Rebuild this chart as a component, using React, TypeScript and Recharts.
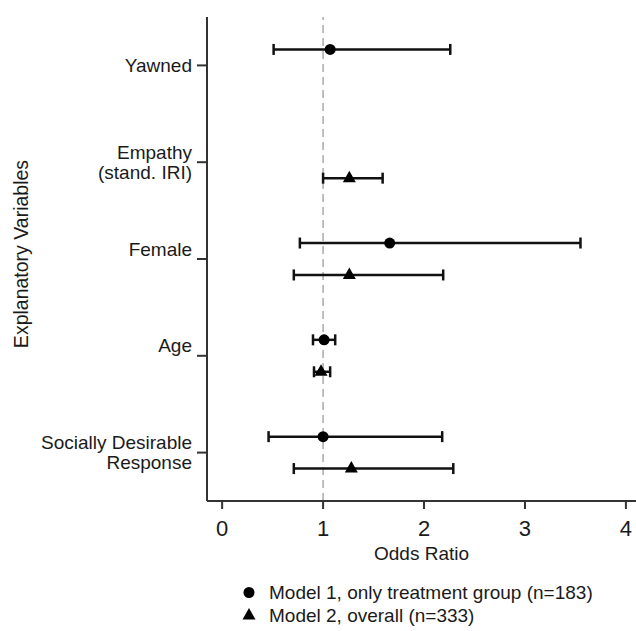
import React from 'react';
import { ScatterChart, Scatter, XAxis, YAxis, ErrorBar, ReferenceLine, Legend } from 'recharts';

// Explanatory variables (tick labels, one row per line)
const variables = [
  ['Yawned'],
  ['Empathy', '(stand. IRI)'],
  ['Female', ''],
  ['Age', ''],
  ['Socially Desirable', 'Response'],
];

// Model 1, only treatment group (null = not in model)
const m1Odds = [1.07, null, 1.66, 1.01, 1.0];
const m1Lower = [0.51, null, 0.77, 0.9, 0.46];
const m1Upper = [2.26, null, 3.55, 1.12, 2.18];

// Model 2, overall
const m2Odds = [null, 1.26, 1.26, 0.98, 1.28];
const m2Lower = [null, 1.0, 0.71, 0.91, 0.71];
const m2Upper = [null, 1.59, 2.19, 1.07, 2.29];

const xTicks = [0, 1, 2, 3, 4];
const FONT = '"Liberation Sans", Arial, sans-serif';

const buildRows = (odds: (number | null)[], lo: (number | null)[], hi: (number | null)[], shift: number) =>
  odds
    .map((v, i) => (v == null ? null : { x: v, y: i + shift, err: [v - (lo[i] as number), (hi[i] as number) - v] }))
    .filter(Boolean) as any[];

const model1 = buildRows(m1Odds, m1Lower, m1Upper, -0.165);
const model2 = buildRows(m2Odds, m2Lower, m2Upper, 0.165);

const Dot = ({ cx, cy }: any) => <circle cx={cx} cy={cy} r={5.5} fill="#000" />;
const Tri = ({ cx, cy }: any) => <path d={`M${cx},${cy - 7.5} L${cx + 6.5},${cy + 4} L${cx - 6.5},${cy + 4} Z`} fill="#000" />;

const VarTick = ({ x, y, payload }: any) => {
  const lines = variables[payload.value] || [];
  const start = y - ((lines.length - 1) * 20) / 2;
  return (
    <text x={x} textAnchor="end" fontSize={19} fontFamily={FONT} fill="#1a1a1a">
      {lines.map((l, i) => (
        <tspan key={i} x={x} y={start + i * 20} dominantBaseline="central">{l}</tspan>
      ))}
    </text>
  );
};

const YTitle = ({ viewBox }: any) => {
  const cx = 21;
  const cy = viewBox.y + viewBox.height / 2 - 5;
  return (
    <text x={cx} y={cy} transform={`rotate(-90, ${cx}, ${cy})`} textAnchor="middle" dominantBaseline="central"
      fontSize={19.5} fontFamily={FONT} fill="#1a1a1a">
      Explanatory Variables
    </text>
  );
};

const LegendBox = () => (
  <div style={{ paddingLeft: 240, fontFamily: FONT, fontSize: 19, color: '#1a1a1a', lineHeight: '23px' }}>
    <div style={{ display: 'flex', alignItems: 'center', height: 23 }}>
      <svg width={18} height={23}><circle cx={9} cy={11.5} r={5.5} fill="#000" /></svg>
      <span style={{ marginLeft: 11 }}>Model 1, only treatment group (n=183)</span>
    </div>
    <div style={{ display: 'flex', alignItems: 'center', height: 23 }}>
      <svg width={18} height={23}><path d="M9,4 L15.5,15.5 L2.5,15.5 Z" fill="#000" /></svg>
      <span style={{ marginLeft: 11 }}>Model 2, overall (n=333)</span>
    </div>
  </div>
);

export default function App() {
  return (
    <div style={{ position: 'absolute', left: 0, top: 0, background: '#fff' }}>
      <ScatterChart width={636} height={631} margin={{ top: 17, right: 0, left: 0, bottom: 4 }}>
        <XAxis
          type="number"
          dataKey="x"
          domain={[-0.15, 4.1]}
          ticks={xTicks}
          allowDataOverflow
          height={80}
          tickSize={8}
          tickMargin={11}
          axisLine={{ stroke: '#333', strokeWidth: 2 }}
          tickLine={{ stroke: '#333', strokeWidth: 2 }}
          tick={{ fontSize: 22, fontFamily: FONT, fill: '#1a1a1a' }}
          label={{ value: 'Odds Ratio', position: 'insideTop', offset: 46, fontSize: 19, fontFamily: FONT, fill: '#1a1a1a' }}
        />
        <YAxis
          type="number"
          dataKey="y"
          domain={[-0.5, 4.5]}
          ticks={[0, 1, 2, 3, 4]}
          reversed
          allowDataOverflow
          width={207}
          tickSize={10}
          tickMargin={5}
          axisLine={{ stroke: '#333', strokeWidth: 2 }}
          tickLine={{ stroke: '#333', strokeWidth: 2 }}
          tick={<VarTick />}
          label={(p: any) => <YTitle {...p} />}
        />
        <ReferenceLine x={1} stroke="#aaa" strokeWidth={1.5} strokeDasharray="8 5" />
        <Scatter data={model1} shape={<Dot />} isAnimationActive={false} legendType="circle" name="Model 1">
          <ErrorBar dataKey="err" direction="x" width={5.5} stroke="#111" strokeWidth={2.5} isAnimationActive={false} />
        </Scatter>
        <Scatter data={model2} shape={<Tri />} isAnimationActive={false} legendType="triangle" name="Model 2">
          <ErrorBar dataKey="err" direction="x" width={5.5} stroke="#111" strokeWidth={2.5} isAnimationActive={false} />
        </Scatter>
        <Legend verticalAlign="bottom" align="left" content={<LegendBox />} />
      </ScatterChart>
    </div>
  );
}
